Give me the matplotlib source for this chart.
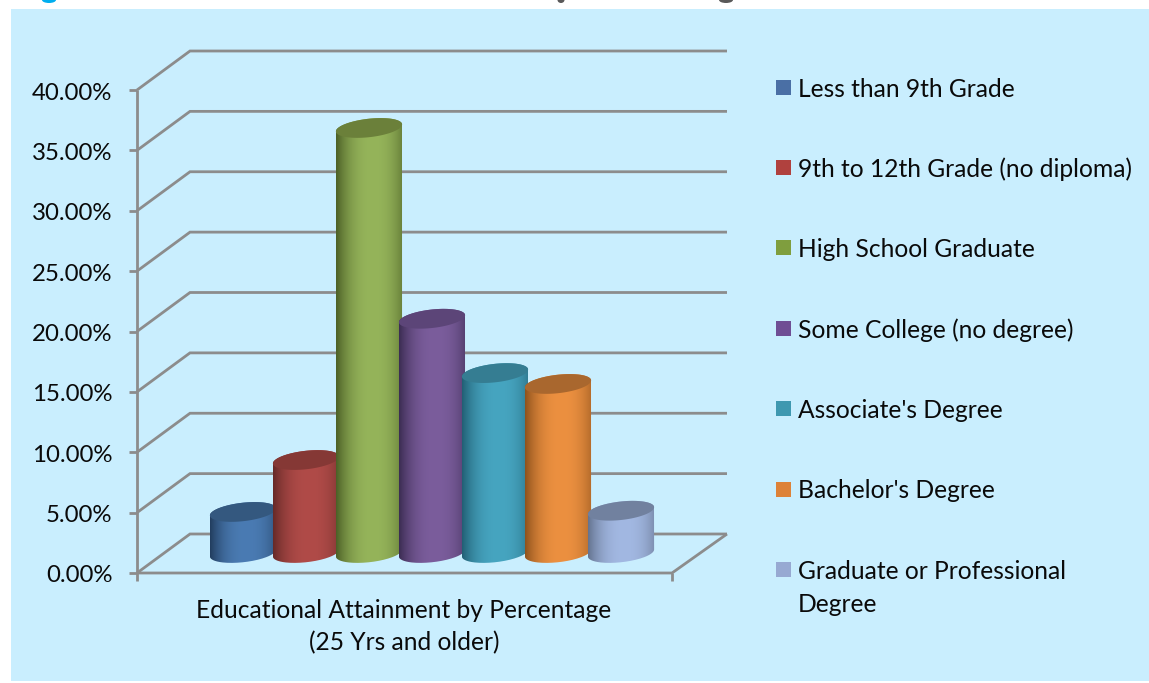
import numpy as np
import matplotlib
matplotlib.use("Agg")
import matplotlib.pyplot as plt
from matplotlib.patches import PathPatch, Polygon, Rectangle, Ellipse
from matplotlib.path import Path

# ---- data ----
categories = ["Less than 9th Grade", "9th to 12th Grade (no diploma)", "High School Graduate",
              "Some College (no degree)", "Associate's Degree", "Bachelor's Degree",
              "Graduate or Professional\nDegree"]
values = [3.4, 7.7, 35.2, 19.4, 14.9, 14.0, 3.5]
y_ticks = [0, 5, 10, 15, 20, 25, 30, 35, 40]
tick_labels = [f"{v:.2f}%" for v in y_ticks]
axis_label = "Educational Attainment by Percentage\n(25 Yrs and older)"

# ---- styles ----
centre_cols = ["#4A7BB3", "#B04B48", "#95B45A", "#7B5D9C", "#46A5C0", "#EC9040", "#A2B8E2"]
edge_cols = ["#223D5E", "#662A28", "#4B5F26", "#3B2C52", "#225F74", "#8E521D", "#64738F"]
top_cols = ["#34587F", "#853835", "#6B803A", "#5C4578", "#357D92", "#A9672E", "#71819F"]
swatch_cols = ["#4A6FA5", "#B0413E", "#7F9E3E", "#6F4E94", "#3E98B0", "#DD8238", "#97A9D2"]
BG = "#C9EEFE"
GRID = "#8C8C8C"
FONT = "Lato"
FS = 17.7
FS_TICK = 17.3
INK = "#0A0A0A"

W, H = 1149, 683
PX_X, PX_Y = 63.0, 12.075      # pixels per category / per percentage point
X0, Y0 = 243.0, 573.0          # pixel of category 0 centre / of 0 %
fx = lambda px: (px - X0) / PX_X
fy = lambda py: (Y0 - py) / PX_Y

fig = plt.figure(figsize=(W / 100, H / 100), dpi=100, facecolor="white")
ax = fig.add_axes([0, 0, 1, 1])
ax.axis("off")

ax.add_patch(Rectangle((fx(11), fy(681)), fx(W + 2) - fx(11), fy(9) - fy(681),
                       fc=BG, ec="none", zorder=0))

# ---- 3-D frame ----
front_l, front_r = fx(137), fx(672)
back_l, back_r = fx(190), fx(727)
depth = fy(534) - fy(573)
line = dict(color=GRID, lw=2.0, solid_capstyle="butt", solid_joinstyle="miter", zorder=1)
for v, lab in zip(y_ticks, tick_labels):
    ax.plot([back_r, back_l, front_l], [v + depth, v + depth, v], **line)
    ax.plot([fx(129), front_l], [v, v], **line)
    ax.text(fx(112.5), v - 1.0 / PX_Y, lab, ha="right", va="center_baseline", fontsize=FS_TICK,
            family=FONT, color=INK)
ax.plot([front_l, front_l], [fy(581), y_ticks[-1]], **line)
ax.plot([back_r, front_r, front_l], [depth, 0, 0], **line)
ax.plot([front_r, front_r], [0, fy(581)], **line)

# ---- cylinders ----
A, B, TH = 33.3, 9.2, np.radians(6.5)
mid = fy(553)

def ell(xc, yc, t):
    return (xc + (A * np.cos(t) * np.cos(TH) - B * np.sin(t) * np.sin(TH)) / PX_X,
            yc + (A * np.cos(t) * np.sin(TH) + B * np.sin(t) * np.cos(TH)) / PX_Y)

t0 = np.arctan2(-B * np.sin(TH), A * np.cos(TH))
s = np.linspace(0, 1, 200)
def hexrgb(c):
    return np.array(matplotlib.colors.to_rgb(c))

for i, v in enumerate(values):
    z = 2 + i
    low = ell(i, mid, np.linspace(t0 + np.pi, t0 + 2 * np.pi, 80))
    up = ell(i, mid + v, np.linspace(t0, t0 + np.pi, 80))
    verts = np.column_stack([np.r_[low[0], up[0]], np.r_[low[1], up[1]]])
    verts = np.vstack([verts, verts[0]])
    clip = PathPatch(Path(verts), fc="none", ec="none", transform=ax.transData, zorder=z)
    ax.add_patch(clip)
    f = (np.abs(s - 0.55) / 0.55) ** 2.4
    grad = hexrgb(centre_cols[i]) + (hexrgb(edge_cols[i]) - hexrgb(centre_cols[i])) * f[:, None]
    im = ax.imshow(grad[None, :, :], extent=(verts[:, 0].min(), verts[:, 0].max(),
                                             verts[:, 1].min(), verts[:, 1].max()),
                   aspect="auto", interpolation="bilinear", zorder=z)
    im.set_clip_path(clip)
    tx, ty = ell(i, mid + v, np.linspace(0, 2 * np.pi, 160))
    ax.add_patch(Polygon(np.column_stack([tx, ty]), closed=True, fc=top_cols[i], ec="none", zorder=z + 0.5))

# ---- axis label ----
lab1, lab2 = axis_label.split("\n")
ax.text(fx(404), fy(608.5), lab1, ha="center", va="center_baseline", fontsize=FS, family=FONT, color=INK)
ax.text(fx(404), fy(640.5), lab2, ha="center", va="center_baseline", fontsize=FS, family=FONT, color=INK)

# ---- legend ----
leg_y = [87.5, 167.5, 248, 328.5, 408.5, 489, 569.5]
for c, col, py in zip(categories, swatch_cols, leg_y):
    ax.add_patch(Rectangle((fx(776), fy(py + 7.5)), fx(791) - fx(776), fy(py - 7.5) - fy(py + 7.5),
                           fc=col, ec="none", zorder=3))
    for k, part in enumerate(c.split("\n")):
        ax.text(fx(798), fy(py + k * 33), part, ha="left", va="center_baseline",
                fontsize=FS, family=FONT, color=INK)

# ---- unreadable ink remnants of a title cropped off above the panel ----
for px, w, col in [(49, 14, "#00AEEF"), (561, 7, "#595959"), (726, 14, "#595959")]:
    ax.add_patch(Ellipse((fx(px), fy(0)), w / PX_X, 6 / PX_Y, fc=col, ec="none", zorder=1))

ax.set_xlim(fx(0), fx(W))
ax.set_ylim(fy(H), fy(0))
fig.savefig("out.png", dpi=100, facecolor="white")
